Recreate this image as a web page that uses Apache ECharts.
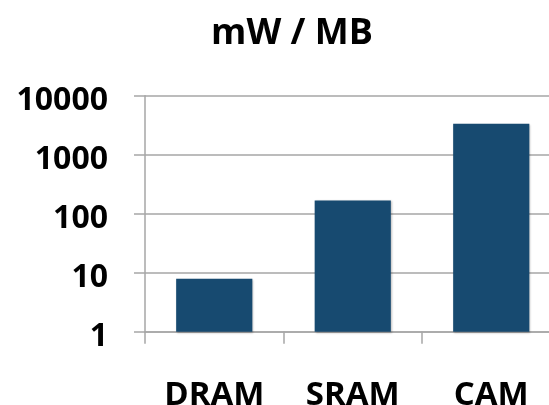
<!DOCTYPE html>
<html><head><meta charset="utf-8">
<script src="https://cdn.jsdelivr.net/npm/echarts@6/dist/echarts.min.js"></script>
<style>html,body{margin:0;padding:0;background:#fff}#c{width:549px;height:405px}</style>
</head><body><div id="c"></div>
<script>
const categories = ["DRAM", "SRAM", "CAM"];
const values = [7.9, 168, 3340];
const yTicks = [1, 10, 100, 1000, 10000];
const titleText = "mW / MB";

const FONT = "Open Sans";
const chart = echarts.init(document.getElementById('c'), null, {renderer: 'canvas'});
chart.setOption({
  animation: false,
  title: {
    text: titleText, left: 287, textAlign: 'center', top: 11,
    textStyle: {fontFamily: FONT, fontWeight: 'bold', fontSize: 36, color: '#000'}
  },
  grid: {left: 145, width: 415.5, top: 95.7, bottom: 73.3, containLabel: false, outerBoundsMode: 'none'},
  xAxis: {
    type: 'category', data: categories,
    axisLine: {lineStyle: {color: '#a6a6a6', width: 1.5}},
    axisTick: {show: true, length: 12, lineStyle: {color: '#a6a6a6', width: 1.5}},
    axisLabel: {fontFamily: FONT, fontWeight: 'bold', fontSize: 33, color: '#000', margin: 47}
  },
  yAxis: {
    type: 'log', logBase: 10, min: yTicks[0], max: yTicks[yTicks.length - 1],
    axisLine: {show: true, lineStyle: {color: '#a6a6a6', width: 1.5}},
    axisTick: {show: true, length: 11, lineStyle: {color: '#a6a6a6', width: 1.5}},
    splitLine: {show: true, lineStyle: {color: '#a6a6a6', width: 1.5}},
    axisLabel: {
      fontFamily: FONT, fontWeight: 'bold', fontSize: 32, color: '#000', margin: 37,
      verticalAlign: 'top', lineHeight: 11,
      formatter: v => String(Math.round(v))
    }
  },
  series: [{
    type: 'bar', data: values, barWidth: '55%',
    itemStyle: {color: '#174a70', shadowColor: 'rgba(0,0,0,0.25)', shadowBlur: 2, shadowOffsetX: 1, shadowOffsetY: 1}
  }]
});
</script></body></html>
